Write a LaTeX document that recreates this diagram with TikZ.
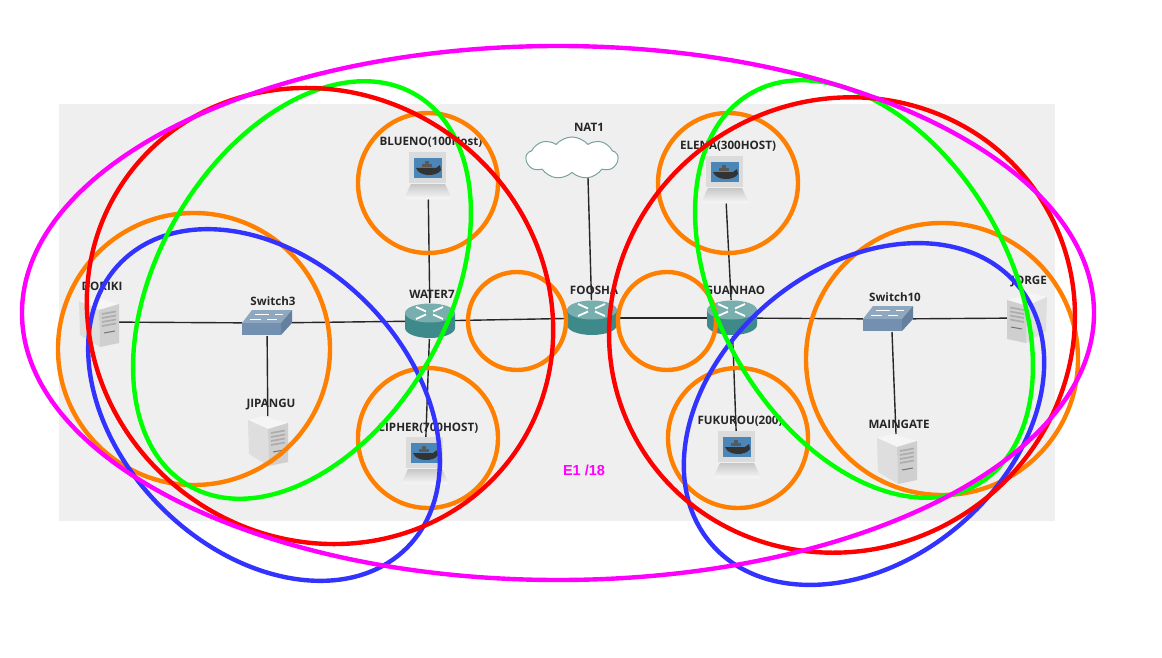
\documentclass[tikz,border=0pt]{standalone}
\usepackage{fontspec}
\setmainfont{Open Sans}
\newfontfamily\areafont{Liberation Sans}
\usetikzlibrary{shapes.geometric,shapes.symbols}
\definecolor{panelgray}{HTML}{EFEFEF}
\definecolor{ringorange}{HTML}{FF8000}
\definecolor{ringblue}{HTML}{3333FF}
\definecolor{ringmagenta}{HTML}{FF00FF}
\definecolor{tealtop}{HTML}{78AEAE}
\definecolor{tealbody}{HTML}{3E8A8A}
\definecolor{steeltop}{HTML}{8FA8C0}
\definecolor{steelfront}{HTML}{7390B0}
\definecolor{steelside}{HTML}{64809E}
\definecolor{screenblue}{HTML}{4A86B8}
\tikzset{
 ring/.style={shape=ellipse,draw=#1,line width=4.4pt,inner sep=0pt,outer sep=0pt},
 hole/.style={shape=circle,draw=ringorange,line width=4.4pt,inner sep=0pt,outer sep=0pt},
 device/.style={shape=rectangle,inner sep=0pt,outer sep=0pt},
 tag/.style={font=\fontsize{11.6}{13}\selectfont\bfseries,text=black!85,inner sep=0pt},
 link/.style={draw=black!85,line width=1.4pt},
 router/.pic={
  \fill[tealbody] (-25,-8) -- (-25,7) arc[x radius=25,y radius=10,start angle=180,end angle=0] -- (25,-8) -- cycle;
  \fill[tealtop] (0,-8) ellipse[x radius=25,y radius=9.5];
  \draw[white,line width=1.8pt] (-14,-14) -- (-4,-9.5) (-14,-2) -- (-4,-6.5) (13,-14) -- (3,-9.5) (13,-2) -- (3,-6.5);
 },
 switchbox/.pic={
  \fill[steeltop] (-25,0) -- (-15,-13) -- (25,-13) -- (14,0) -- cycle;
  \fill[steelfront] (-25,0) rectangle (14,12);
  \fill[steelside] (14,0) -- (25,-13) -- (25,0) -- (14,12) -- cycle;
  \draw[white,line width=1pt] (-12,-9) -- (2,-9) (8,-9) -- (16,-9) (-17,-4) -- (-6,-4) (0,-4) -- (10,-4);
 },
 serverbox/.pic={
  \fill[black!4] (-20,-21) -- (-5,-25) -- (20,-18) -- (0,-12) -- cycle;
  \fill[black!13] (-20,-21) -- (0,-12) -- (1,25) -- (-19,13) -- cycle;
  \fill[black!19] (0,-12) -- (20,-18) -- (20,21) -- (1,25) -- cycle;
  \foreach \slot in {-8,-4,0,4} \draw[black!32,line width=1.7pt] (3,\slot) -- (17,\slot-2.5);
  \draw[black!55,line width=1pt] (5,11) -- (16,9);
 },
 dockerhost/.pic={
  \fill[black!14] (-19,-24) rectangle (18,7);
  \fill[screenblue] (-14,-18) rectangle (14,2);
  \fill[black!80] (-12,-8) -- (8,-8) -- (12,-11) -- (13,-6) .. controls (9,1) and (-9,1) .. cycle;
  \fill[black!65] (-6,-9) rectangle (4,-12);
  \fill[black!65] (-3,-12) rectangle (1,-15);
  \shade[top color=black!22,bottom color=black!3] (-17,8) -- (17,8) -- (24,23) -- (-24,23) -- cycle;
 }
}
\begin{document}
\begin{tikzpicture}[x=1pt,y=-1pt]
\useasboundingbox (0,0) rectangle (1162,658);
\fill[panelgray] (59,104) rectangle (1055,521);

\node[device,minimum width=40,minimum height=50](doriki) at (99,322) {};
\node[device,minimum width=50,minimum height=26](switch3) at (267,323) {};
\node[device,minimum width=40,minimum height=50](jipangu) at (268,441) {};
\node[device,minimum width=50,minimum height=36](water7) at (430,321) {};
\node[device,minimum width=50,minimum height=47](blueno) at (428,176) {};
\node[device,minimum width=50,minimum height=47](cipher) at (425,461) {};
\node[device,minimum width=50,minimum height=36](foosha) at (592,318) {};
\node[shape=cloud,cloud puffs=9,cloud puff arc=100,aspect=2.2,draw=tealtop!70!gray,fill=white,line width=1pt,inner sep=0pt,minimum width=92,minimum height=42](nat1) at (572,158) {};
\coordinate (nat1port) at (588,178);
\node[device,minimum width=50,minimum height=36](guanhao) at (732,318) {};
\node[device,minimum width=50,minimum height=47](elena) at (725,180) {};
\node[device,minimum width=50,minimum height=47](fukurou) at (737,455) {};
\node[device,minimum width=50,minimum height=26](switch10) at (888,319) {};
\node[device,minimum width=40,minimum height=50](maingate) at (897,459) {};
\node[device,minimum width=40,minimum height=50](jorge) at (1027,318) {};

\path[link] (doriki) edge (switch3);
\path[link] (switch3) edge (water7);
\path[link] (switch3) edge (jipangu);
\path[link] (blueno) edge (water7);
\path[link] (water7) edge (cipher);
\path[link] (water7) edge (foosha);
\path[link] (nat1port) edge (foosha);
\path[link] (foosha) edge (guanhao);
\path[link] (elena) edge (guanhao);
\path[link] (guanhao) edge (fukurou);
\path[link] (guanhao) edge (switch10);
\path[link] (switch10) edge (jorge);
\path[link] ([xshift=4pt]switch10.south) edge (maingate);

\pic at (doriki) {serverbox};
\pic at (jipangu) {serverbox};
\pic at (maingate) {serverbox};
\pic[xscale=-1] at (jorge) {serverbox};
\pic at (switch3) {switchbox};
\pic at (switch10) {switchbox};
\pic at (water7) {router};
\pic at (foosha) {router};
\pic at (guanhao) {router};
\pic at (blueno) {dockerhost};
\pic at (cipher) {dockerhost};
\pic at (elena) {dockerhost};
\pic at (fukurou) {dockerhost};

\node[tag](doriki label) at (102,286) {DORIKI};
\node[tag](switch3 label) at (273,301) {Switch3};
\node[tag](jipangu label) at (271,405) {JIPANGU};
\node[tag](water7 label) at (432,294) {WATER7};
\node[tag](blueno label) at (431,142) {BLUENO(100Host)};
\node[tag](cipher label) at (428,428) {CIPHER(700HOST)};
\node[tag](foosha label) at (594,290) {FOOSHA};
\node[tag](nat1 label) at (589,127) {NAT1};
\node[tag](guanhao label) at (735,290) {GUANHAO};
\node[tag](elena label) at (728,146) {ELENA(300HOST)};
\node[tag](fukurou label) at (740,421) {FUKUROU(200)};
\node[tag](switch10 label) at (895,297) {Switch10};
\node[tag](maingate label) at (899,424) {MAINGATE};
\node[tag](jorge label) at (1029,282) {JORGE};
\node[font=\areafont\fontsize{14.5}{16}\selectfont\bfseries,text=ringmagenta](area label) at (584,470) {E1 /18};

%

\node[hole,minimum size=272](lan1) at (194,349) {};
\node[hole,minimum size=140](lan2) at (428,183) {};
\node[hole,minimum size=140](lan3) at (428,438) {};
\node[hole,minimum size=98](wan1) at (517,321) {};
\node[hole,minimum size=98](wan2) at (667,321) {};
\node[hole,minimum size=140](lan4) at (728,183) {};
\node[hole,minimum size=140](lan5) at (738,438) {};
\node[hole,minimum size=272](lan6) at (942,359) {};

\node[ring=ringblue,minimum width=404,minimum height=290,rotate=-45](blue1) at (264,405) {};
\node[ring=ringblue,minimum width=401,minimum height=293,rotate=40](blue2) at (864,414) {};
\node[ring=green,minimum width=452,minimum height=290,rotate=60](green1) at (302,290) {};
\node[ring=green,minimum width=452,minimum height=290,rotate=-60](green2) at (864,289) {};
\node[ring=red,minimum width=476,minimum height=446,rotate=-35](red1) at (320,316) {};
\node[ring=red,minimum width=471,minimum height=450,rotate=30](red2) at (842,325) {};
\node[ring=ringmagenta,minimum width=1072,minimum height=534](area1) at (558,313) {};
\end{tikzpicture}
\end{document}
